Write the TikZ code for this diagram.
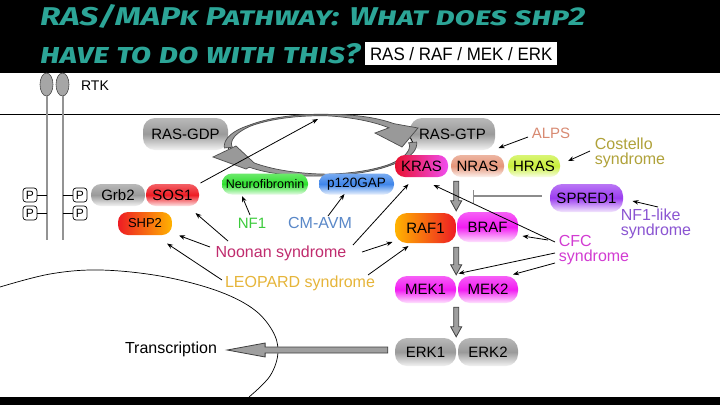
\documentclass[tikz,border=0pt]{standalone}
\usepackage{fontspec}
\setmainfont{Liberation Sans}
\newfontfamily\titlefont[Letters=SmallCaps]{Fira Sans}
\newfontfamily\narrowfont[FakeStretch=0.94]{Liberation Sans}
\usetikzlibrary{shapes.geometric,arrows.meta,calc}
\definecolor{teal1}{HTML}{2CA597}
\definecolor{cgray}{HTML}{9A9A9A}
\definecolor{cred}{HTML}{EE1C24}
\definecolor{cgreen}{HTML}{2EE02E}
\definecolor{cblue}{HTML}{3F86EA}
\definecolor{cmag}{HTML}{F21BF2}
\definecolor{cpurp}{HTML}{9B3CF0}
\definecolor{csalm}{HTML}{E59579}
\definecolor{cyell}{HTML}{C8F03A}
\definecolor{corange}{HTML}{FFB300}
\definecolor{ckred}{HTML}{E8102E}
\definecolor{ckmag}{HTML}{F04EF0}
\definecolor{tnoonan}{HTML}{C02C6E}
\definecolor{tleo}{HTML}{E6B53A}
\definecolor{tnf1}{HTML}{3CCB3C}
\definecolor{tcm}{HTML}{5A88C8}
\definecolor{tcfc}{HTML}{D23CD2}
\definecolor{tnfl}{HTML}{8B55D2}
\definecolor{talps}{HTML}{D88A72}
\definecolor{tcost}{HTML}{B0A23A}
\newcommand{\vblock}[2]{\filldraw[blkfill] ($#1+(-2.5,0)$) -- ($#2+(-2.5,-10)$) -- ($#2+(-5.5,-10)$) -- #2 -- ($#2+(5.5,-10)$) -- ($#2+(2.5,-10)$) -- ($#1+(2.5,0)$) -- cycle;}
\newcommand{\hblock}[2]{\filldraw[blkfill] ($#1+(0,-3)$) -- ($#2+(38,-3)$) -- ($#2+(38,-7)$) -- #2 -- ($#2+(38,7)$) -- ($#2+(38,3)$) -- ($#1+(0,3)$) -- cycle;}
\tikzset{
  pill/.style={inner sep=0pt, rounded corners=10pt, font=\fontsize{15}{18}\selectfont, text=black},
  gl/.style={top color=#1!70!white, bottom color=#1!12!white, middle color=#1},
  hz/.style 2 args={left color=#1, right color=#2},
  lbl/.style={inner sep=0pt, font=\fontsize{16}{15.5}\selectfont},
  thinarr/.style={draw=black, line width=0.8pt, -{Stealth[length=6pt,width=4.5pt]}},
  inh/.style={draw=gray!90, line width=1.3pt, -{Bar[width=13pt]}},
  blkfill/.style={fill=gray!75, draw=black!75, line width=0.8pt},
  cycfill/.style={fill=gray!80, draw=black!70, line width=0.7pt},
  rtkline/.style={draw=gray!85, line width=2pt},
  pbox/.style={draw, rounded corners=3pt, line width=0.7pt, minimum width=14pt, minimum height=14pt, inner sep=0pt, font=\fontsize{12}{12}\selectfont},
}
\begin{document}
\begin{tikzpicture}[x=1pt,y=-1pt,
  declare function={wt(\t)=1.5+6.5*max(0,(\t-140)/45)+5*max(0,(85-\t)/45);
                    wb(\t)=1.5+6.5*max(0,(\t-320)/45)+5*max(0,(275-\t)/53);}]
\useasboundingbox (0,0) rectangle (720,405);
\fill[white] (0,0) rectangle (720,405);
\fill[black] (0,0) rectangle (720,72.5);
\fill[black] (0,397) rectangle (720,405);

% title
\node[anchor=base west, inner sep=0pt, text=teal1] (title1) at (40,25)
  {\resizebox{545pt}{21pt}{\titlefont\bfseries\itshape RAS/MAPk Pathway: What does shp2}};
\node[anchor=base west, inner sep=0pt, text=teal1] (title2) at (40,63)
  {\resizebox{320pt}{20pt}{\titlefont\bfseries\itshape have to do with this?}};
\node[anchor=north west, fill=white, inner sep=0pt, minimum width=192pt, minimum height=23pt,
      font=\narrowfont\fontsize{18}{20}\selectfont] (sub) at (365,42) {RAS / RAF / MEK / ERK};

% membrane
\draw[line width=0.8pt] (0,114) -- (720,114);

% RTK
\node[ellipse, minimum width=13pt, minimum height=23pt, inner sep=0pt, fill=gray!70, draw=gray!60!black, line width=0.6pt] (rtka) at (46.5,84.5) {};
\node[ellipse, minimum width=13pt, minimum height=23pt, inner sep=0pt, fill=gray!70, draw=gray!60!black, line width=0.6pt] (rtkb) at (62.5,84.5) {};
\coordinate (rtkae) at (46.5,240);
\coordinate (rtkbe) at (62.5,240);
\draw[rtkline] (rtka.south) -- (rtkae);
\draw[rtkline] (rtkb.south) -- (rtkbe);
\node[inner sep=0pt, font=\fontsize{14}{14}\selectfont] (rtk) at (95,86) {RTK};

\node[pbox] (p1) at (30,195) {P};
\node[pbox] (p2) at (30,213) {P};
\node[pbox] (p3) at (80,195) {P};
\node[pbox] (p4) at (80,213) {P};
\draw[line width=0.7pt] (p1.east) -- (p1.east -| rtka.south);
\draw[line width=0.7pt] (p2.east) -- (p2.east -| rtka.south);
\draw[line width=0.7pt] (p3.west) -- (p3.west -| rtkb.south);
\draw[line width=0.7pt] (p4.west) -- (p4.west -| rtkb.south);

% RAS boxes
\node[pill, gl=cgray, minimum width=85pt, minimum height=32pt, rounded corners=12pt] (rasgdp) at (185.5,134) {RAS-GDP};
\node[pill, gl=cgray, minimum width=85pt, minimum height=32pt, rounded corners=12pt] (rasgtp) at (452.5,134) {RAS-GTP};

% RAS cycle
\draw[line width=0.7pt] (320.5,145) ellipse [x radius=92.5, y radius=30];
\filldraw[cycfill]
  plot[domain=185:40, samples=50, variable=\t] ({320.5+(92.5+0.5*wt(\t))*cos(\t)},{145-(30+0.5*wt(\t))*sin(\t)})
  -- (418,128) -- (402,147) -- (375,133)
  -- plot[domain=40:185, samples=50, variable=\t] ({320.5+(92.5-0.5*wt(\t))*cos(\t)},{145-(30-0.5*wt(\t))*sin(\t)})
  -- cycle;
\filldraw[cycfill]
  plot[domain=365:222, samples=50, variable=\t] ({320.5+(92.5+0.5*wb(\t))*cos(\t)},{145-(30+0.5*wb(\t))*sin(\t)})
  -- (246,169) -- (213,157) -- (236,146)
  -- plot[domain=222:365, samples=50, variable=\t] ({320.5+(92.5-0.5*wb(\t))*cos(\t)},{145-(30-0.5*wb(\t))*sin(\t)})
  -- cycle;

% other boxes
\node[pill, gl=cgray, minimum width=54pt, minimum height=22pt] (grb2) at (118,195) {Grb2};
\node[pill, gl=cred, minimum width=53pt, minimum height=22pt] (sos1) at (172.5,195) {SOS1};
\node[pill, hz={cred}{corange}, minimum width=54pt, minimum height=23pt, font=\fontsize{13}{15}\selectfont] (shp2) at (145,223.5) {SHP2};
\node[pill, hz={ckred}{ckmag}, minimum width=53pt, minimum height=22pt] (kras) at (421.5,166) {KRAS};
\node[pill, gl=csalm, minimum width=53pt, minimum height=22pt] (nras) at (477.5,166) {NRAS};
\node[pill, gl=cyell, minimum width=52pt, minimum height=22pt] (hras) at (534,166) {HRAS};
\node[pill, gl=cpurp, minimum width=73pt, minimum height=28pt, rounded corners=12pt] (spred1) at (586.5,198) {SPRED1};
\node[pill, gl=cgreen, minimum width=86pt, minimum height=21pt, font=\fontsize{12.5}{14}\selectfont] (neuro) at (265,184) {Neurofibromin};
\node[pill, gl=cblue, minimum width=75pt, minimum height=21pt, font=\fontsize{13.5}{15}\selectfont] (p120) at (356.5,184) {p120GAP};
\node[pill, hz={corange}{cred}, minimum width=61pt, minimum height=30pt, rounded corners=12pt] (raf1) at (425.5,228) {RAF1};
\node[pill, gl=cmag, minimum width=61pt, minimum height=30pt, rounded corners=12pt] (braf) at (487.5,227) {BRAF};
\node[pill, gl=cmag, minimum width=61pt, minimum height=27pt, rounded corners=12pt] (mek1) at (425.5,289.5) {MEK1};
\node[pill, gl=cmag, minimum width=60pt, minimum height=27pt, rounded corners=12pt] (mek2) at (488,289.5) {MEK2};
\node[pill, gl=cgray, minimum width=61pt, minimum height=28pt, rounded corners=12pt] (erk1) at (425.5,352) {ERK1};
\node[pill, gl=cgray, minimum width=60pt, minimum height=28pt, rounded corners=12pt] (erk2) at (488,352) {ERK2};

% labels
\node[lbl, text=talps, font=\fontsize{15}{15}\selectfont] (alps) at (551,133) {ALPS};
\node[lbl, text=tcost, align=left] (cost) at (630,153) {Costello\\syndrome};
\node[lbl, text=tnfl, align=left] (nfl) at (656,224) {NF1-like\\syndrome};
\node[lbl, text=tcfc, align=left] (cfc) at (594,250) {CFC\\syndrome};
\node[lbl, text=tnf1, font=\fontsize{15}{15}\selectfont] (nf1) at (252,223) {NF1};
\node[lbl, text=tcm] (cmavm) at (320,223) {CM-AVM};
\node[lbl, text=tnoonan] (noonan) at (281,253) {Noonan syndrome};
\node[lbl, text=tleo] (leo) at (300,283) {LEOPARD syndrome};
\node[lbl, text=black] (transc) at (171,349) {Transcription};

% nucleus
\draw[line width=0.7pt] plot[smooth, tension=0.6] coordinates {(0,287) (50,274) (100,270) (160,276) (215,290) (252,308) (272,330) (278,352) (270,376) (249,397)};

% block arrows
\coordinate (va1) at ($(kras.south -| raf1.east)+(0,4)$);
\coordinate (vb1) at ($(raf1.north east)+(0,-2)$);
\coordinate (va2) at ($(raf1.south east)+(0,4)$);
\coordinate (vb2) at ($(mek1.north east)+(0,-1)$);
\coordinate (va3) at ($(mek1.south east)+(0,4)$);
\coordinate (vb3) at ($(erk1.north east)+(0,-1)$);
\vblock{(va1)}{(vb1)}
\vblock{(va2)}{(vb2)}
\vblock{(va3)}{(vb3)}
\coordinate (ha) at ($(erk1.west)+(-7,-2)$);
\coordinate (hb) at ($(transc.east)+(10,1)$);
\hblock{(ha)}{(hb)}

% thin arrows
\coordinate (cyc) at (318,119);
\draw[thinarr] ($(sos1)+(28,-12)$) -- (cyc);
\draw[thinarr] ($(alps)+(-23,4)$) -- ($(rasgtp)+(46,14)$);
\draw[thinarr] ($(cost)+(-40,-2)$) -- ($(hras)+(34,-5)$);
\draw[thinarr] ($(nfl)+(2,-17)$) -- ($(spred1)+(46,3)$);
\draw[inh] ($(spred1)+(-45,-2)$) -- ($(nras)+(-5,30)$);
\draw[thinarr] ($(cfc)+(-39,-8)$) -- ($(kras)+(12,19)$);
\draw[thinarr] ($(cfc)+(-46,-10)$) -- ($(braf)+(35,9)$);
\draw[thinarr] ($(cfc)+(-39,3)$) -- ($(mek1)+(33,-16)$);
\draw[thinarr] ($(cfc)+(-39,13)$) -- ($(mek2)+(25,-15)$);
\draw[thinarr] ($(nf1)+(-2,-8)$) -- ($(neuro)+(-23,12)$);
\draw[thinarr] ($(cmavm)+(8,-7)$) -- ($(p120)+(-12,10)$);
\draw[thinarr] ($(noonan)+(-53,-12)$) -- ($(sos1)+(23,18)$);
\draw[thinarr] ($(noonan)+(-71,-6)$) -- ($(shp2)+(34,12)$);
\draw[thinarr] ($(noonan)+(72,-8)$) -- ($(kras)+(-13,18)$);
\draw[thinarr] ($(noonan)+(81,-1)$) -- ($(raf1)+(-33,14)$);
\draw[thinarr] ($(leo)+(-78,-3)$) -- ($(shp2)+(22,20)$);
\draw[thinarr] ($(leo)+(68,-8)$) -- ($(raf1)+(-17,18)$);
\end{tikzpicture}
\end{document}
